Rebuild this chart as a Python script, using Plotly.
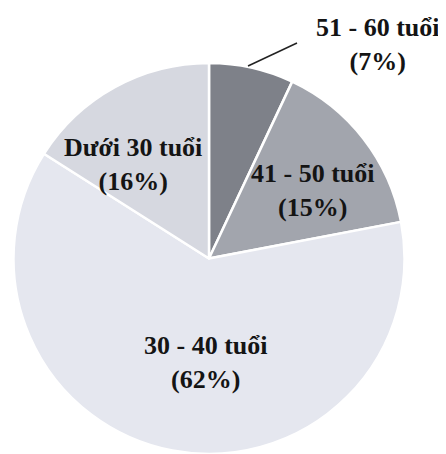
import plotly.graph_objects as go

# Age groups, clockwise from 12 o'clock
labels = ["51 - 60 tuổi", "41 - 50 tuổi", "30 - 40 tuổi", "Dưới 30 tuổi"]
shares = [7, 15, 62, 16]
colors = ["#7e8189", "#a2a5ad", "#e5e7ef", "#d6d8e0"]

# page has an 8px body margin, so work in page pixels and shift
OFF = 8
W, H = 446 - OFF, 454 - OFF
cx, cy, r = 209 - OFF, 259 - OFF, 196


def px(x):
    return (x - OFF) / W


def py(y):
    return 1 - (y - OFF) / H


fig = go.Figure(go.Pie(
    labels=labels,
    values=shares,
    sort=False,
    direction="clockwise",
    rotation=0,
    marker=dict(colors=colors, line=dict(color="white", width=2.5)),
    textinfo="none",
    hoverinfo="label+percent",
    showlegend=False,
    domain=dict(x=[(cx - r) / W, min(1, (cx + r) / W)],
                y=[max(0, (H - cy - r) / H), (H - cy + r) / H]),
))

# label positions in page pixels
label_pos = [(378, 44), (313, 190), (206, 362), (133, 164)]
font = dict(family="Liberation Serif, Times New Roman, serif", size=26, color="#141414")
for lab, val, (x, y) in zip(labels, shares, label_pos):
    fig.add_annotation(
        x=px(x), y=py(y), xref="paper", yref="paper",
        text=f"<b>{lab}<br>({val}%)</b>", showarrow=False,
        font=font, xanchor="center", yanchor="middle", align="center",
    )

# leader line for the small slice
fig.add_shape(type="line", xref="paper", yref="paper",
              x0=px(248), y0=py(66), x1=px(297), y1=py(43),
              line=dict(color="#222", width=1.5))

fig.update_layout(width=W, height=H, margin=dict(l=0, r=0, t=0, b=0),
                  paper_bgcolor="white", plot_bgcolor="white")

fig.write_html("out.html")
